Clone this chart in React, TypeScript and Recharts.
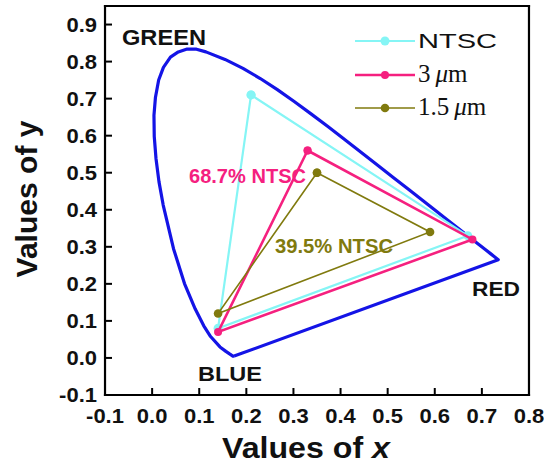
import React from "react";
import { ScatterChart, Scatter, XAxis, YAxis } from "recharts";

// axis ticks
const xMajorTicks = [-0.1, 0.0, 0.1, 0.2, 0.3, 0.4, 0.5, 0.6, 0.7, 0.8];
const xMinorTicks = [-0.05, 0.05, 0.15, 0.25, 0.35, 0.45, 0.55, 0.65, 0.75];
const yMajorTicks = [-0.1, 0.0, 0.1, 0.2, 0.3, 0.4, 0.5, 0.6, 0.7, 0.8, 0.9];
const yMinorTicks = [-0.05, 0.05, 0.15, 0.25, 0.35, 0.45, 0.55, 0.65, 0.75, 0.85];

// spectral locus (380 nm -> 700 nm, then the purple line back)
const locusX = [0.1741, 0.1733, 0.1714, 0.1644, 0.1566, 0.144, 0.1241, 0.1096, 0.0913, 0.0687, 0.0454, 0.0235, 0.0145, 0.0082, 0.0045, 0.0039, 0.007, 0.0139, 0.024, 0.0389, 0.0555, 0.0743, 0.0942, 0.1142, 0.1547, 0.1929, 0.2296, 0.2658, 0.3016, 0.3373, 0.3731, 0.4087, 0.4441, 0.4788, 0.5125, 0.5448, 0.5752, 0.6029, 0.627, 0.6658, 0.6915, 0.7079, 0.719, 0.726, 0.7347, 0.1741];
const locusY = [0.005, 0.0048, 0.0051, 0.0109, 0.0177, 0.0297, 0.0578, 0.0868, 0.1327, 0.2007, 0.295, 0.4127, 0.476, 0.5384, 0.598, 0.6548, 0.703, 0.7502, 0.7845, 0.812, 0.826, 0.8338, 0.8335, 0.8262, 0.8059, 0.7816, 0.7543, 0.7243, 0.6923, 0.6589, 0.6245, 0.5896, 0.5547, 0.5202, 0.4866, 0.4544, 0.4242, 0.3965, 0.3725, 0.334, 0.3083, 0.292, 0.2809, 0.274, 0.2653, 0.005];

// gamut triangles (G, R, B, back to G)
const ntscX = [0.21, 0.67, 0.14, 0.21];
const ntscY = [0.71, 0.33, 0.08, 0.71];
const um3X = [0.33, 0.68, 0.14, 0.33];
const um3Y = [0.56, 0.32, 0.07, 0.56];
const um15X = [0.35, 0.59, 0.14, 0.35];
const um15Y = [0.5, 0.34, 0.12, 0.5];

const zip = (xs: number[], ys: number[]) => xs.map((x, i) => ({ x, y: ys[i] }));

const locus = zip(locusX, locusY);
const ntsc = zip(ntscX, ntscY);
const um3 = zip(um3X, um3Y);
const um15 = zip(um15X, um15Y);

const BLUE = "#1414E6";
const CYAN = "#85F5F5";
const PINK = "#F5207F";
const OLIVE = "#807A0E";
const FONT = "'Liberation Sans', Arial, sans-serif";
const SERIF = "'Liberation Serif', 'Times New Roman', serif";

const frame = { stroke: "#000", strokeWidth: 2.2, strokeLinecap: "square" as const };
const tickLn = { stroke: "#000", strokeWidth: 2 };
const THIN = 0.01; // axes take no room, but must have a positive size to be drawn

const charW: Record<string, number> = { "-": 0.333, ".": 0.278 };
const labelLen = (s: string, fs: number) =>
  s.split("").reduce((a, c) => a + (charW[c] ?? 0.556), 0) * fs * 1.1;

const fmt = (v: number) => v.toFixed(1);

const XTick = (props: any) => {
  const s = fmt(props.payload.value);
  return (
    <text x={props.x} y={props.y} dy={15} textAnchor="middle" fontFamily={FONT} fontWeight="bold" fontSize={20} fill="#111"
      textLength={labelLen(s, 20)} lengthAdjust="spacingAndGlyphs">
      {s}
    </text>
  );
};

const YTick = (props: any) => {
  const s = fmt(props.payload.value);
  return (
    <text x={props.x} y={props.y} dy={7} textAnchor="end" fontFamily={FONT} fontWeight="bold" fontSize={20} fill="#111"
      textLength={labelLen(s, 20)} lengthAdjust="spacingAndGlyphs">
      {s}
    </text>
  );
};

const dot = (color: string, r: number) => (p: any) => <circle cx={p.cx} cy={p.cy} r={r} fill={color} />;

const App = () => {
  return (
    <div style={{ position: "relative", width: 544, height: 466, background: "#fff" }}>
      <style>{"body{margin:0}"}</style>
      <ScatterChart width={544} height={466} margin={{ top: 6, right: 15, bottom: 71, left: 105 }}>
        <XAxis xAxisId="b" type="number" dataKey="x" domain={[-0.1, 0.8]} ticks={xMajorTicks} interval={0}
          allowDataOverflow height={THIN} tickSize={-7} tickMargin={20} axisLine={frame} tickLine={tickLn} tick={<XTick />} />
        <XAxis xAxisId="bm" type="number" domain={[-0.1, 0.8]} ticks={xMinorTicks} interval={0}
          allowDataOverflow height={THIN} tickSize={-4} axisLine={false} tickLine={tickLn} tick={false} />
        <XAxis xAxisId="t" orientation="top" type="number" domain={[-0.1, 0.8]} ticks={xMajorTicks} interval={0}
          allowDataOverflow height={THIN} tickSize={-7} axisLine={frame} tickLine={tickLn} tick={false} />
        <XAxis xAxisId="tm" orientation="top" type="number" domain={[-0.1, 0.8]} ticks={xMinorTicks} interval={0}
          allowDataOverflow height={THIN} tickSize={-4} axisLine={false} tickLine={tickLn} tick={false} />
        <YAxis yAxisId="l" type="number" dataKey="y" domain={[-0.1, 0.95]} ticks={yMajorTicks} interval={0}
          allowDataOverflow width={THIN} tickSize={-7} tickMargin={15} axisLine={frame} tickLine={tickLn} tick={<YTick />} />
        <YAxis yAxisId="lm" type="number" domain={[-0.1, 0.95]} ticks={yMinorTicks} interval={0}
          allowDataOverflow width={THIN} tickSize={-4} axisLine={false} tickLine={tickLn} tick={false} />
        <YAxis yAxisId="r" orientation="right" type="number" domain={[-0.1, 0.95]} ticks={yMajorTicks} interval={0}
          allowDataOverflow width={THIN} tickSize={-7} axisLine={frame} tickLine={tickLn} tick={false} />
        <YAxis yAxisId="rm" orientation="right" type="number" domain={[-0.1, 0.95]} ticks={yMinorTicks} interval={0}
          allowDataOverflow width={THIN} tickSize={-4} axisLine={false} tickLine={tickLn} tick={false} />

        <Scatter xAxisId="b" yAxisId="l" data={locus} isAnimationActive={false}
          line={{ stroke: BLUE, strokeWidth: 3.2, strokeLinejoin: "round" }} shape={() => <g />} />
        <Scatter xAxisId="b" yAxisId="l" data={ntsc} isAnimationActive={false}
          line={{ stroke: CYAN, strokeWidth: 2.2 }} shape={dot(CYAN, 4.5)} />
        <Scatter xAxisId="b" yAxisId="l" data={um3} isAnimationActive={false}
          line={{ stroke: PINK, strokeWidth: 2.6 }} shape={dot(PINK, 4)} />
        <Scatter xAxisId="b" yAxisId="l" data={um15} isAnimationActive={false}
          line={{ stroke: OLIVE, strokeWidth: 1.6 }} shape={dot(OLIVE, 4.3)} />
      </ScatterChart>

      <svg width={544} height={466} style={{ position: "absolute", left: 0, top: 0, pointerEvents: "none" }}>
        <g fontFamily={FONT} fontWeight="bold">
          <text x={122} y={45} fontSize={22} fill="#111" textLength={84} lengthAdjust="spacingAndGlyphs">GREEN</text>
          <text x={472} y={296} fontSize={21} fill="#111" textLength={48} lengthAdjust="spacingAndGlyphs">RED</text>
          <text x={198} y={381} fontSize={21} fill="#111" textLength={64} lengthAdjust="spacingAndGlyphs">BLUE</text>
          <text x={189} y={183} fontSize={20} fill={PINK} textLength={117} lengthAdjust="spacingAndGlyphs">68.7% NTSC</text>
          <text x={275} y={253} fontSize={20} fill={OLIVE} textLength={118} lengthAdjust="spacingAndGlyphs">39.5% NTSC</text>
          <text x={222} y={458} fontSize={29} fill="#111" textLength={168} lengthAdjust="spacingAndGlyphs">
            Values of <tspan fontStyle="italic">x</tspan>
          </text>
          <text x={37} y={199} fontSize={29} fill="#111" textAnchor="middle" transform="rotate(-90 37 199)"
            textLength={157} lengthAdjust="spacingAndGlyphs">
            Values of y
          </text>
        </g>

        {/* legend */}
        <line x1={355} y1={41} x2={415} y2={41} stroke={CYAN} strokeWidth={2.2} />
        <circle cx={385} cy={41} r={4.5} fill={CYAN} />
        <text x={418} y={48} fontFamily={FONT} fontSize={21} fill="#111" textLength={79} lengthAdjust="spacingAndGlyphs">NTSC</text>

        <line x1={355} y1={75} x2={415} y2={75} stroke={PINK} strokeWidth={2.6} />
        <circle cx={385} cy={75} r={4} fill={PINK} />
        <text x={418} y={82} fontFamily={SERIF} fontSize={25} fill="#111">
          3<tspan dx={5} fontStyle="italic">μ</tspan>m
        </text>

        <line x1={355} y1={108} x2={415} y2={108} stroke={OLIVE} strokeWidth={1.6} />
        <circle cx={385} cy={108} r={4.3} fill={OLIVE} />
        <text x={418} y={115} fontFamily={SERIF} fontSize={25} fill="#111">
          1.5<tspan dx={5} fontStyle="italic">μ</tspan>m
        </text>
      </svg>
    </div>
  );
};

export default App;
